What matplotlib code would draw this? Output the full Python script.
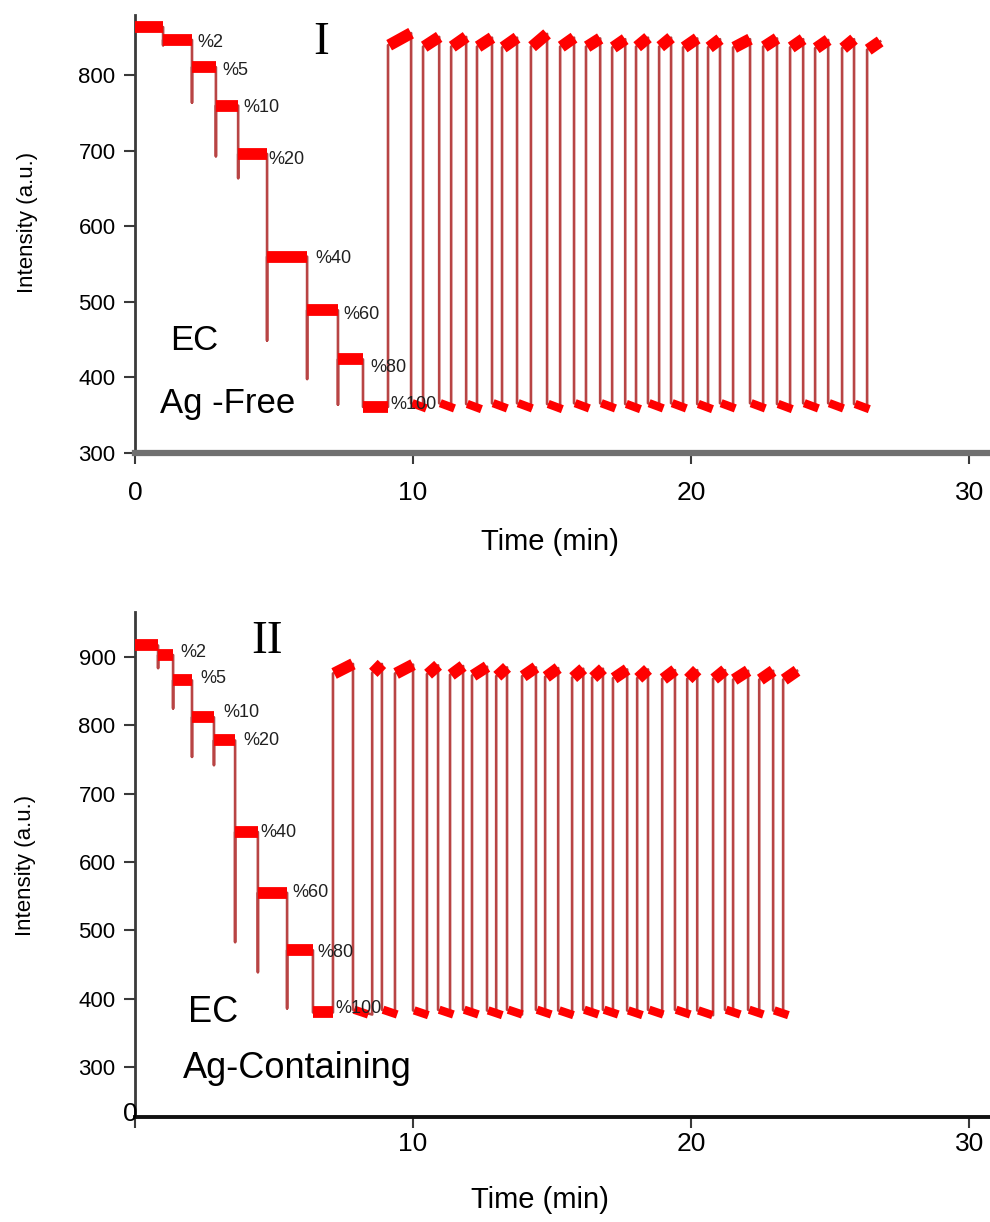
import matplotlib
matplotlib.use('Agg')
import matplotlib.pyplot as plt

# ---------------- Panel I : EC, Ag-free ----------------
step_bounds_I = [0, 1.01, 2.05, 2.91, 3.71, 4.75, 6.19, 7.30, 8.20, 9.10]
step_levels_I = [864, 847, 811, 760, 696, 560, 489, 424, 361]
step_spikes_I = [840, 764, 693, 664, 449, 398, 364, 361]
step_labels = ['%2', '%5', '%10', '%20', '%40', '%60', '%80', '%100']
label_t_I = [2.23, 3.13, 3.88, 4.78, 6.47, 7.48, 8.45, 9.17]
label_v_I = [843, 807, 757, 689, 557, 483, 413, 364]

rise_I = [9.10, 10.36, 11.37, 12.30, 13.20, 14.24, 15.29, 16.22, 17.16, 18.02,
          18.85, 19.71, 20.61, 21.51, 22.59, 23.56, 24.46, 25.43, 26.33]
fall_I = [9.93, 10.94, 11.91, 12.84, 13.74, 14.82, 15.79, 16.73, 17.63, 18.45,
          19.28, 20.22, 21.04, 22.12, 23.09, 24.03, 24.93, 25.86]
end_I = 26.80
hi_start_I = [840, 838, 838, 838, 837, 838, 838, 838, 837, 838,
              838, 837, 837, 837, 838, 837, 836, 836, 834]
hi_end_I = [856, 851, 851, 850, 850, 855, 850, 849, 848, 850,
            850, 849, 848, 848, 849, 848, 847, 848, 845]
lo_start_I = [366, 366, 365, 366, 366, 365, 366, 366, 365, 366,
              366, 365, 366, 366, 365, 366, 366, 365]
lo_end_I = [359, 359, 358, 359, 359, 358, 359, 359, 358, 359,
            359, 358, 359, 359, 358, 359, 359, 358]

# ---------------- Panel II : EC, Ag-containing ----------------
step_bounds_II = [0, 0.83, 1.37, 2.05, 2.84, 3.60, 4.42, 5.47, 6.40, 7.12]
step_levels_II = [917, 903, 866, 812, 778, 644, 555, 471, 380]
step_spikes_II = [884, 825, 754, 742, 483, 439, 386, 380]
label_t_II = [1.62, 2.34, 3.17, 3.88, 4.50, 5.65, 6.55, 7.19]
label_v_II = [907, 869, 819, 778, 644, 555, 467, 386]

rise_II = [7.12, 8.53, 9.35, 10.50, 11.33, 12.12, 12.99, 13.92, 14.75, 15.72,
           16.44, 17.19, 18.06, 18.96, 19.86, 20.79, 21.51, 22.45, 23.31]
fall_II = [7.84, 8.88, 10.00, 10.90, 11.80, 12.66, 13.38, 14.42, 15.22, 16.12,
           16.83, 17.70, 18.45, 19.42, 20.22, 21.22, 22.05, 22.95]
end_II = 23.81
hi_start_II = [876, 877, 876, 875, 874, 873, 872, 872, 871, 870,
               870, 869, 869, 868, 868, 868, 867, 867, 867]
hi_end_II = [890, 890, 889, 888, 887, 886, 885, 885, 884, 883,
             883, 882, 882, 881, 881, 881, 880, 880, 880]
lo_start_II = [384, 384, 383, 384, 384, 383, 384, 384, 383, 384,
               384, 383, 384, 384, 383, 384, 384, 383]
lo_end_II = [377, 377, 376, 377, 377, 376, 377, 377, 376, 377,
             377, 376, 377, 377, 376, 377, 377, 376]

x_ticks = [0, 10, 20, 30]
x_tick_labels = ['0', '10', '20', '30']
y_ticks_I = [300, 400, 500, 600, 700, 800]
y_ticks_II = [300, 400, 500, 600, 700, 800, 900]

SANS = ['Liberation Sans', 'DejaVu Sans']
SERIF = ['Liberation Serif', 'DejaVu Serif']
TRACE = '#b84444'
BLOB = '#ff0000'

W, H = 990, 1222
fig = plt.figure(figsize=(W / 100, H / 100), dpi=100)


def px_axes(left, top, right, bottom):
    return fig.add_axes([left / W, 1 - bottom / H, (right - left) / W, (bottom - top) / H])


def draw_trace(ax, bounds, levels, spikes, rise, fall, end, hs, he, ls, le,
               hi_lw, lo_lw, step_lw):
    xs, ys = [], []
    n = len(levels)
    for i in range(n):
        xs += [bounds[i], bounds[i + 1]]
        ys += [levels[i], levels[i]]
        if i < n - 1:
            xs += [bounds[i + 1], bounds[i + 1]]
            ys += [spikes[i], levels[i + 1]]
    for k in range(len(rise)):
        t_end = fall[k] if k < len(fall) else end
        xs += [rise[k], rise[k], t_end]
        ys += [ys[-1], hs[k], he[k]]
        if k < len(fall):
            xs += [fall[k], rise[k + 1]]
            ys += [ls[k], le[k]]
    ax.plot(xs, ys, color=TRACE, lw=1.9, zorder=2)
    # thick plateaus (noisy bands in the original)
    for i in range(n):
        ax.plot([bounds[i], bounds[i + 1]], [levels[i], levels[i]], color=BLOB,
                lw=step_lw, solid_capstyle='butt', zorder=3)
    for k in range(len(rise)):
        t_end = fall[k] if k < len(fall) else end
        ax.plot([rise[k] + 0.04, t_end], [hs[k], he[k]], color=BLOB, lw=hi_lw,
                solid_capstyle='butt', zorder=3)
        if k < len(fall):
            ax.plot([fall[k] + 0.04, fall[k] + 0.55], [ls[k], le[k]], color=BLOB,
                    lw=lo_lw, solid_capstyle='butt', zorder=3)


def style_axes(ax, ylim, yticks, bottom_color, bottom_lw):
    ax.set_xlim(0, 30.75)
    ax.set_ylim(*ylim)
    ax.spines['top'].set_visible(False)
    ax.spines['right'].set_visible(False)
    ax.spines['left'].set_color('#3a3a3a')
    ax.spines['left'].set_linewidth(2.0)
    ax.spines['bottom'].set_color(bottom_color)
    ax.spines['bottom'].set_linewidth(bottom_lw)
    ax.set_yticks(yticks)
    ax.set_yticklabels([str(v) for v in yticks], fontsize=16, family=SANS)
    ax.tick_params(axis='y', direction='out', length=8, width=1.5,
                   color='#3a3a3a', pad=6)
    ax.set_xticks(x_ticks)
    ax.tick_params(axis='x', direction='out', length=8, width=1.5,
                   color='#3a3a3a')


# ---- Panel I ----
ax1 = px_axes(135, 15, 990, 453)
draw_trace(ax1, step_bounds_I, step_levels_I, step_spikes_I, rise_I, fall_I,
           end_I, hi_start_I, hi_end_I, lo_start_I, lo_end_I,
           hi_lw=8.5, lo_lw=6, step_lw=8.5)
style_axes(ax1, (300, 880), y_ticks_I, '#707070', 4.5)
ax1.set_xticklabels(x_tick_labels, fontsize=19, family=SANS)
ax1.tick_params(axis='x', pad=12)
for lab, t, v in zip(step_labels, label_t_I, label_v_I):
    ax1.text(t, v, lab, fontsize=13, family=SANS, ha='left', va='center',
             color='#202020', zorder=4)
ax1.text(1.26, 436, 'EC', fontsize=25, family=SANS, ha='left', va='baseline')
ax1.text(0.90, 353, 'Ag -Free', fontsize=25, family=SANS, ha='left', va='baseline')
ax1.text(6.69, 829, 'I', fontsize=34, family=SERIF, ha='center', va='baseline')

# ---- Panel II ----
ax2 = px_axes(135, 612, 990, 1117)
draw_trace(ax2, step_bounds_II, step_levels_II, step_spikes_II, rise_II, fall_II,
           end_II, hi_start_II, hi_end_II, lo_start_II, lo_end_II,
           hi_lw=8.5, lo_lw=6, step_lw=8.5)
style_axes(ax2, (227, 966), y_ticks_II, '#111111', 2.8)
ax2.set_xticklabels([''] + x_tick_labels[1:], fontsize=19, family=SANS)
ax2.tick_params(axis='x', pad=3)
for lab, t, v in zip(step_labels, label_t_II, label_v_II):
    ax2.text(t, v, lab, fontsize=13, family=SANS, ha='left', va='center',
             color='#202020', zorder=4)
ax2.text(1.91, 366, 'EC', fontsize=26, family=SANS, ha='left', va='baseline')
ax2.text(1.73, 284, 'Ag-Containing', fontsize=26, family=SANS, ha='left', va='baseline')
ax2.text(4.75, 906, 'II', fontsize=34, family=SERIF, ha='center', va='baseline')
fig.text(130 / W, 1 - 1114 / H, x_tick_labels[0], fontsize=19, family=SANS,
         ha='center', va='center')

# axis titles
fig.text(28 / W, 1 - 222 / H, 'Intensity (a.u.)', rotation=90, fontsize=16,
         family=SANS, ha='center', va='center')
fig.text(25 / W, 1 - 865 / H, 'Intensity (a.u.)', rotation=90, fontsize=16,
         family=SANS, ha='center', va='center')
fig.text(550 / W, 1 - 542 / H, 'Time (min)', fontsize=21, family=SANS,
         ha='center', va='center')
fig.text(540 / W, 1 - 1200 / H, 'Time (min)', fontsize=21, family=SANS,
         ha='center', va='center')

fig.savefig('out.png', dpi=100)
